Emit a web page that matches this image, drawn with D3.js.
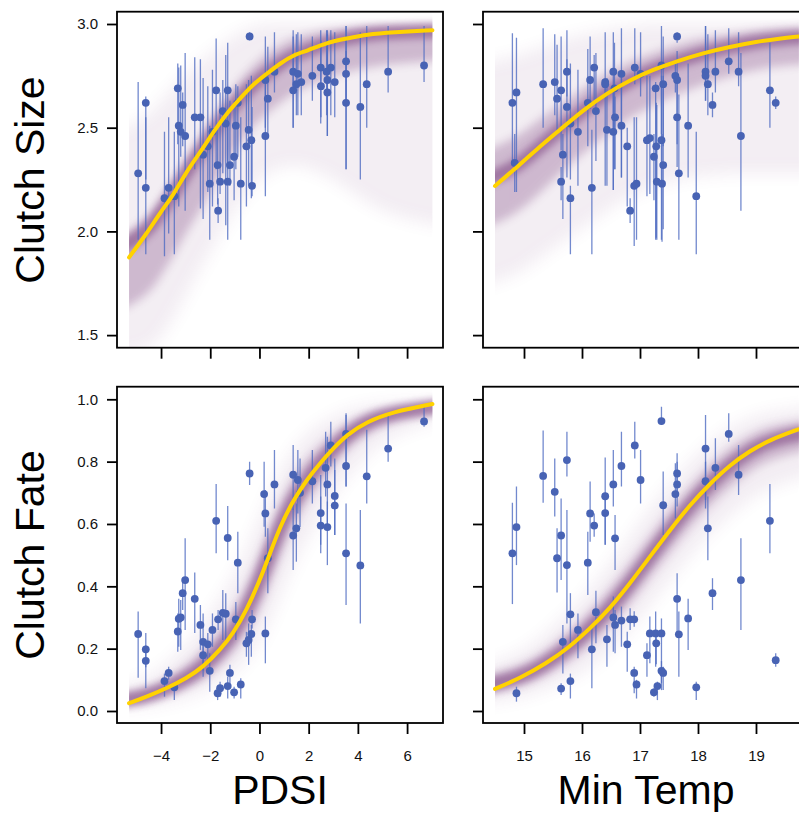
<!DOCTYPE html>
<html>
<head>
<meta charset="utf-8">
<script src="https://cdn.jsdelivr.net/npm/d3@7"></script>
<style>
  body { margin: 0; background: #fff; }
  svg { display: block; font-family: "Liberation Sans", Arial, Helvetica, sans-serif; }
</style>
</head>
<body>
<svg id="chart" width="799" height="814"></svg>
<script>
// observed points: [x, mean, lower, upper]
const pdsiSize = [
  [-4.93, 2.28, 1.96, 2.72], [-4.62, 2.62, 2.25, 2.65], [-4.62, 2.21, 1.89, 2.55],
  [-3.86, 2.16, 1.88, 2.48], [-3.69, 2.21, 1.99, 2.55], [-3.46, 2.17, 1.89, 2.48],
  [-3.32, 2.69, 2.42, 2.81], [-3.28, 2.51, 2.12, 2.79], [-3.20, 2.48, 2.36, 2.80],
  [-3.12, 2.61, 2.41, 2.67], [-3.02, 2.46, 2.10, 2.86], [-2.63, 2.55, 2.30, 2.84],
  [-2.40, 2.55, 2.11, 2.83], [-2.29, 2.37, 2.06, 2.74], [-2.10, 2.41, 2.19, 2.70],
  [-2.02, 2.23, 1.96, 2.51], [-1.91, 2.48, 2.12, 2.78], [-1.76, 2.68, 2.30, 2.93],
  [-1.70, 2.32, 2.13, 2.50], [-1.68, 2.10, 2.04, 2.16], [-1.60, 2.24, 2.18, 2.67],
  [-1.49, 2.58, 2.28, 2.73], [-1.37, 2.52, 2.03, 2.85], [-1.29, 2.68, 2.30, 2.91],
  [-1.29, 2.24, 1.96, 2.54], [-1.20, 2.32, 2.22, 2.63], [-1.03, 2.36, 2.15, 2.63],
  [-0.96, 2.51, 2.30, 2.71], [-0.88, 2.62, 2.36, 2.70], [-0.76, 2.23, 1.96, 2.55],
  [-0.53, 2.41, 2.12, 2.71], [-0.44, 2.49, 2.22, 2.73], [-0.40, 2.94, 2.92, 2.96],
  [-0.33, 2.44, 2.16, 2.75], [-0.30, 2.22, 2.17, 2.60], [0.24, 2.46, 2.17, 2.73],
  [0.24, 2.73, 2.50, 2.94], [0.34, 2.64, 2.46, 2.89], [0.61, 2.77, 2.67, 2.96],
  [1.37, 2.77, 2.50, 2.94], [1.37, 2.68, 2.50, 2.97], [1.50, 2.71, 2.56, 2.95],
  [1.56, 2.76, 2.56, 2.96], [1.70, 2.72, 2.56, 2.95], [2.15, 2.75, 2.63, 2.94],
  [2.49, 2.79, 2.52, 2.97], [2.50, 2.70, 2.55, 2.92], [2.73, 2.77, 2.56, 2.97],
  [2.76, 2.73, 2.46, 2.97], [2.76, 2.67, 2.46, 2.95], [2.90, 2.79, 2.56, 2.97],
  [3.06, 2.72, 2.55, 2.96], [3.52, 2.82, 2.62, 2.99], [3.52, 2.76, 2.30, 2.99],
  [3.52, 2.62, 2.30, 2.87], [4.10, 2.60, 2.25, 2.96], [4.36, 2.71, 2.50, 2.99],
  [5.23, 2.77, 2.67, 2.99], [6.69, 2.80, 2.72, 2.99]
];

const pdsiFate = [
  [-4.93, 0.247, 0.107, 0.319], [-4.62, 0.198, 0.14, 0.25], [-4.62, 0.161, 0.073, 0.21],
  [-3.86, 0.096, 0.046, 0.12], [-3.69, 0.122, 0.10, 0.142], [-3.46, 0.076, 0.035, 0.089],
  [-3.32, 0.255, 0.19, 0.313], [-3.28, 0.296, 0.206, 0.36], [-3.20, 0.30, 0.196, 0.356],
  [-3.12, 0.378, 0.324, 0.42], [-3.02, 0.42, 0.26, 0.554], [-2.63, 0.36, 0.25, 0.444],
  [-2.40, 0.276, 0.196, 0.34], [-2.29, 0.222, 0.11, 0.313], [-2.29, 0.179, 0.13, 0.217],
  [-2.10, 0.214, 0.153, 0.25], [-2.02, 0.129, 0.062, 0.185], [-1.91, 0.26, 0.206, 0.313],
  [-1.76, 0.61, 0.506, 0.728], [-1.70, 0.057, 0.035, 0.073], [-1.68, 0.294, 0.26, 0.324],
  [-1.60, 0.073, 0.046, 0.094], [-1.49, 0.315, 0.228, 0.388], [-1.37, 0.312, 0.228, 0.378],
  [-1.29, 0.555, 0.484, 0.658], [-1.29, 0.08, 0.04, 0.11], [-1.20, 0.122, 0.089, 0.148],
  [-1.03, 0.06, 0.04, 0.078], [-0.96, 0.294, 0.228, 0.35], [-0.88, 0.476, 0.378, 0.575],
  [-0.76, 0.085, 0.04, 0.105], [-0.53, 0.217, 0.174, 0.254], [-0.44, 0.228, 0.148, 0.281],
  [-0.40, 0.762, 0.725, 0.80], [-0.33, 0.247, 0.174, 0.276], [-0.30, 0.294, 0.265, 0.324],
  [0.19, 0.696, 0.591, 0.80], [0.24, 0.634, 0.559, 0.709], [0.24, 0.249, 0.153, 0.303],
  [0.34, 0.49, 0.378, 0.586], [0.61, 0.727, 0.65, 0.837], [1.37, 0.758, 0.645, 0.853],
  [1.37, 0.563, 0.452, 0.65], [1.50, 0.586, 0.479, 0.666], [1.56, 0.741, 0.634, 0.837],
  [1.65, 0.70, 0.59, 0.81], [2.15, 0.737, 0.666, 0.837], [2.49, 0.635, 0.533, 0.757],
  [2.49, 0.595, 0.506, 0.688], [2.69, 0.78, 0.688, 0.896], [2.76, 0.727, 0.59, 0.88],
  [2.76, 0.59, 0.468, 0.672], [2.90, 0.852, 0.784, 0.928], [3.06, 0.69, 0.565, 0.81],
  [3.06, 0.659, 0.565, 0.773], [3.52, 0.889, 0.72, 0.955], [3.52, 0.786, 0.72, 0.95],
  [3.52, 0.506, 0.34, 0.666], [4.10, 0.467, 0.281, 0.645], [4.36, 0.753, 0.666, 0.902],
  [5.23, 0.842, 0.80, 0.955], [6.69, 0.929, 0.912, 0.976]
];

const tempSize = [
  [14.80, 2.62, 2.33, 2.955], [14.87, 2.67, 2.19, 2.934], [14.84, 2.33, 2.19, 2.47],
  [15.33, 2.71, 2.50, 2.98], [15.53, 2.72, 2.56, 2.95], [15.57, 2.64, 2.47, 2.90],
  [15.64, 2.68, 2.39, 2.94], [15.67, 2.37, 2.06, 2.47], [15.64, 2.24, 2.15, 2.31],
  [15.74, 2.77, 2.65, 2.97], [15.74, 2.60, 2.26, 2.83], [15.80, 2.52, 2.25, 2.81],
  [15.80, 2.16, 1.89, 2.22], [15.93, 2.48, 2.22, 2.78], [16.10, 2.62, 2.41, 2.88],
  [16.14, 2.73, 2.59, 2.94], [16.17, 2.21, 1.89, 2.49], [16.21, 2.79, 2.63, 2.85],
  [16.24, 2.58, 2.34, 2.86], [16.40, 2.72, 2.22, 2.96], [16.40, 2.71, 2.66, 2.74],
  [16.43, 2.49, 2.22, 2.74], [16.54, 2.77, 2.20, 2.96], [16.54, 2.48, 2.20, 2.68],
  [16.56, 2.69, 2.30, 2.91], [16.57, 2.55, 2.30, 2.65], [16.68, 2.76, 2.26, 2.98],
  [16.68, 2.51, 2.26, 2.75], [16.78, 2.41, 2.12, 2.50], [16.83, 2.10, 2.04, 2.16],
  [16.90, 2.22, 1.93, 2.55], [16.91, 2.79, 2.71, 2.98], [16.94, 2.23, 1.96, 2.55],
  [17.01, 2.76, 2.65, 2.96], [17.12, 2.44, 2.17, 2.75], [17.17, 2.45, 2.18, 2.75],
  [17.24, 2.36, 2.15, 2.47], [17.27, 2.69, 1.96, 2.72], [17.28, 2.41, 1.97, 2.62],
  [17.29, 2.24, 1.96, 2.61], [17.37, 2.80, 2.47, 2.99], [17.37, 2.44, 1.96, 2.75],
  [17.38, 2.23, 1.95, 2.47], [17.40, 2.71, 2.41, 2.94], [17.40, 2.32, 2.01, 2.75],
  [17.61, 2.75, 2.67, 2.82], [17.64, 2.94, 2.91, 2.96], [17.64, 2.73, 2.42, 2.87],
  [17.64, 2.55, 2.31, 2.76], [17.67, 2.28, 1.96, 2.66], [17.83, 2.51, 2.26, 2.81],
  [17.97, 2.17, 1.89, 2.48], [18.13, 2.77, 2.63, 2.99], [18.13, 2.75, 2.63, 2.99],
  [18.17, 2.71, 2.56, 2.95], [18.25, 2.61, 2.55, 2.67], [18.30, 2.77, 2.67, 2.97],
  [18.53, 2.82, 2.76, 2.98], [18.70, 2.77, 2.70, 2.96], [18.74, 2.46, 2.10, 2.86],
  [19.24, 2.68, 2.50, 2.91], [19.34, 2.62, 2.59, 2.65]
];

const tempFate = [
  [14.80, 0.506, 0.343, 0.668], [14.87, 0.59, 0.468, 0.72], [14.87, 0.057, 0.03, 0.078],
  [15.33, 0.754, 0.668, 0.90], [15.53, 0.703, 0.624, 0.81], [15.57, 0.49, 0.38, 0.586],
  [15.64, 0.563, 0.42, 0.682], [15.67, 0.222, 0.12, 0.276], [15.64, 0.072, 0.051, 0.089],
  [15.74, 0.805, 0.752, 0.896], [15.74, 0.468, 0.281, 0.645], [15.80, 0.31, 0.217, 0.378],
  [15.80, 0.096, 0.04, 0.12], [15.93, 0.26, 0.169, 0.313], [16.10, 0.476, 0.372, 0.575],
  [16.14, 0.634, 0.543, 0.736], [16.17, 0.198, 0.073, 0.27], [16.21, 0.595, 0.559, 0.634],
  [16.24, 0.317, 0.217, 0.386], [16.40, 0.689, 0.533, 0.813], [16.40, 0.635, 0.533, 0.70],
  [16.43, 0.23, 0.142, 0.276], [16.54, 0.727, 0.656, 0.837], [16.54, 0.30, 0.19, 0.367],
  [16.57, 0.554, 0.452, 0.629], [16.57, 0.276, 0.185, 0.324], [16.68, 0.786, 0.72, 0.896],
  [16.68, 0.29, 0.206, 0.335], [16.78, 0.214, 0.126, 0.254], [16.83, 0.294, 0.26, 0.33],
  [16.90, 0.294, 0.27, 0.32], [16.90, 0.122, 0.057, 0.142], [16.91, 0.852, 0.81, 0.928],
  [16.94, 0.085, 0.04, 0.10], [17.01, 0.741, 0.666, 0.837], [17.12, 0.179, 0.11, 0.217],
  [17.17, 0.249, 0.153, 0.303], [17.24, 0.06, 0.046, 0.073], [17.27, 0.249, 0.142, 0.319],
  [17.28, 0.217, 0.15, 0.25], [17.30, 0.08, 0.035, 0.094], [17.37, 0.93, 0.918, 0.976],
  [17.37, 0.249, 0.067, 0.297], [17.37, 0.129, 0.09, 0.16], [17.40, 0.122, 0.067, 0.142],
  [17.40, 0.66, 0.565, 0.768], [17.61, 0.696, 0.618, 0.795], [17.64, 0.727, 0.656, 0.827],
  [17.64, 0.762, 0.70, 0.80], [17.64, 0.36, 0.249, 0.442], [17.67, 0.246, 0.11, 0.319],
  [17.83, 0.297, 0.196, 0.36], [17.97, 0.076, 0.035, 0.094], [18.13, 0.842, 0.677, 0.95],
  [18.13, 0.737, 0.65, 0.80], [18.17, 0.586, 0.484, 0.688], [18.25, 0.378, 0.324, 0.426],
  [18.30, 0.78, 0.709, 0.875], [18.53, 0.889, 0.864, 0.955], [18.70, 0.758, 0.693, 0.853],
  [18.74, 0.42, 0.26, 0.554], [19.24, 0.61, 0.506, 0.728], [19.34, 0.163, 0.142, 0.185]
];

// fitted curve: [x, fit, inner lo, inner hi, outer lo, outer hi]
const pdsiSizeFit = [
  [-5.30, 1.875, 1.58, 1.93, 1.40, 2.45], [-4.58, 1.99, 1.68, 2.05, 1.42, 2.55],
  [-4.04, 2.09, 1.78, 2.15, 1.48, 2.62], [-3.50, 2.175, 1.88, 2.24, 1.58, 2.70],
  [-2.96, 2.29, 2.00, 2.35, 1.70, 2.76], [-2.41, 2.38, 2.10, 2.45, 1.82, 2.82],
  [-1.87, 2.48, 2.22, 2.55, 1.93, 2.87], [-1.33, 2.57, 2.33, 2.65, 2.04, 2.92],
  [-0.79, 2.64, 2.43, 2.73, 2.14, 2.96], [-0.25, 2.71, 2.51, 2.80, 2.22, 2.99],
  [0.30, 2.76, 2.57, 2.86, 2.28, 3.0], [0.84, 2.81, 2.62, 2.90, 2.31, 3.0],
  [1.38, 2.85, 2.67, 2.93, 2.32, 3.0], [1.92, 2.87, 2.70, 2.95, 2.31, 3.0],
  [2.73, 2.91, 2.74, 2.97, 2.27, 3.0], [3.55, 2.93, 2.77, 2.98, 2.21, 3.0],
  [4.36, 2.95, 2.79, 2.99, 2.14, 3.0], [5.44, 2.96, 2.81, 2.99, 2.07, 3.0],
  [7.03, 2.97, 2.83, 2.995, 2.01, 3.0]
];

const tempSizeFit = [
  [14.50, 2.219, 1.99, 2.36, 1.72, 2.80], [14.82, 2.296, 2.07, 2.44, 1.78, 2.84],
  [15.22, 2.396, 2.17, 2.53, 1.86, 2.88], [15.62, 2.49, 2.28, 2.61, 1.94, 2.92],
  [16.02, 2.585, 2.38, 2.69, 2.02, 2.95], [16.43, 2.666, 2.47, 2.76, 2.10, 2.97],
  [16.83, 2.73, 2.55, 2.82, 2.17, 2.99], [17.23, 2.78, 2.61, 2.86, 2.22, 3.0],
  [17.63, 2.82, 2.66, 2.90, 2.25, 3.0], [18.09, 2.86, 2.71, 2.93, 2.27, 3.0],
  [18.55, 2.89, 2.75, 2.95, 2.28, 3.0], [19.01, 2.915, 2.78, 2.97, 2.28, 3.0],
  [19.41, 2.93, 2.80, 2.98, 2.28, 3.0], [19.74, 2.94, 2.81, 2.985, 2.28, 3.0]
];

const pdsiFateFit = [
  [-5.30, 0.025, 0.012, 0.040, 0.005, 0.07], [-4.58, 0.046, 0.028, 0.066, 0.012, 0.10],
  [-3.77, 0.073, 0.050, 0.100, 0.025, 0.15], [-2.96, 0.105, 0.075, 0.145, 0.04, 0.21],
  [-2.28, 0.142, 0.10, 0.195, 0.06, 0.28], [-1.60, 0.196, 0.145, 0.26, 0.09, 0.36],
  [-1.06, 0.25, 0.19, 0.32, 0.12, 0.43], [-0.52, 0.324, 0.25, 0.40, 0.16, 0.52],
  [0.02, 0.42, 0.33, 0.50, 0.22, 0.62], [0.43, 0.506, 0.41, 0.59, 0.29, 0.70],
  [0.84, 0.592, 0.50, 0.67, 0.37, 0.77], [1.38, 0.677, 0.60, 0.75, 0.47, 0.84],
  [1.92, 0.741, 0.67, 0.81, 0.55, 0.89], [2.46, 0.795, 0.73, 0.85, 0.62, 0.92],
  [3.01, 0.843, 0.79, 0.89, 0.69, 0.945], [3.55, 0.886, 0.84, 0.92, 0.75, 0.965],
  [4.36, 0.928, 0.89, 0.955, 0.82, 0.98], [5.44, 0.96, 0.935, 0.975, 0.89, 0.99],
  [7.03, 0.985, 0.97, 0.99, 0.95, 0.997]
];

const tempFateFit = [
  [14.50, 0.071, 0.045, 0.10, 0.02, 0.13], [14.93, 0.105, 0.075, 0.14, 0.04, 0.18],
  [15.39, 0.153, 0.115, 0.195, 0.07, 0.25], [15.79, 0.206, 0.16, 0.255, 0.10, 0.32],
  [16.14, 0.265, 0.21, 0.32, 0.14, 0.39], [16.48, 0.329, 0.27, 0.39, 0.19, 0.47],
  [16.83, 0.41, 0.345, 0.475, 0.26, 0.56], [17.17, 0.495, 0.43, 0.56, 0.34, 0.65],
  [17.52, 0.581, 0.51, 0.645, 0.42, 0.73], [17.86, 0.661, 0.59, 0.72, 0.50, 0.80],
  [18.21, 0.730, 0.66, 0.79, 0.57, 0.86], [18.55, 0.789, 0.72, 0.845, 0.63, 0.91],
  [18.90, 0.835, 0.77, 0.885, 0.68, 0.94], [19.24, 0.87, 0.81, 0.915, 0.72, 0.96],
  [19.74, 0.904, 0.85, 0.94, 0.77, 0.98]
];

const pdsiTicks = [-4, -2, 0, 2, 4, 6];
const tempTicks = [15, 16, 17, 18, 19];
const sizeTicks = [1.5, 2.0, 2.5, 3.0];
const fateTicks = [0, 0.2, 0.4, 0.6, 0.8, 1.0];

const svg = d3.select("#chart");
const defs = svg.append("defs");

const purple = "#7a3f7e";
const pointBlue = "#4863b4";
const barBlue = "#4f6cc2";
const gold = "#ffd200";

[["blurWide", 8], ["blurMid", 5], ["blurCore", 3.5]].forEach(([id, s]) => {
  defs.append("filter").attr("id", id)
    .attr("filterUnits", "userSpaceOnUse")
    .attr("x", 0).attr("y", 0).attr("width", 820).attr("height", 814)
    .append("feGaussianBlur").attr("stdDeviation", s);
});

const pdsiX = d3.scaleLinear().domain([-5.79, 7.46]).range([117, 443]);
const tempX = d3.scaleLinear().domain([14.293, 19.914]).range([483, 809]);
const sizeY = d3.scaleLinear().domain([1.4393, 3.0593]).range([347.7, 11.7]);
const fateY = d3.scaleLinear().domain([-0.0385, 1.0404]).range([723, 386.7]);

function drawPanel(id, x, y, pts, fit, xTicks, yTicks, xLabels, yLabels) {
  const [x0, x1] = x.range();
  const [y1, y0] = y.range();
  const fx0 = x(fit[0][0]), fx1 = x(fit[fit.length - 1][0]);

  defs.append("clipPath").attr("id", "clip-" + id)
    .append("rect").attr("x", x0).attr("y", y0).attr("width", x1 - x0).attr("height", y1 - y0);
  // shading stops sharply where the fitted range ends
  defs.append("clipPath").attr("id", "band-" + id)
    .append("rect").attr("x", fx0).attr("y", y0).attr("width", fx1 - fx0).attr("height", y1 - y0);

  const g = svg.append("g");
  const plot = g.append("g").attr("clip-path", `url(#clip-${id})`);
  const band = plot.append("g").attr("clip-path", `url(#band-${id})`);

  // push the blurred shapes a little past both ends so the blur does not fade the edges
  const last = fit.length - 1;
  const bx = (d, i) => x(d[0]) + (i === 0 ? -25 : i === last ? 25 : 0);

  const outer = d3.area().x(bx).y0(d => y(d[4])).y1(d => y(d[5])).curve(d3.curveBasis);
  const inner = d3.area().x(bx).y0(d => y(d[2])).y1(d => y(d[3])).curve(d3.curveBasis);
  const core = d3.line().x(bx).y(d => y(d[1])).curve(d3.curveBasis);
  const mid = d3.line().x(d => x(d[0])).y(d => y(d[1])).curve(d3.curveBasis);

  band.append("path").datum(fit).attr("d", outer)
    .attr("fill", purple).attr("opacity", 0.09).attr("filter", "url(#blurWide)");
  band.append("path").datum(fit).attr("d", inner)
    .attr("fill", purple).attr("opacity", 0.3).attr("filter", "url(#blurMid)");
  band.append("path").datum(fit).attr("d", core)
    .attr("fill", "none").attr("stroke", purple).attr("stroke-width", 14)
    .attr("opacity", 0.55).attr("filter", "url(#blurCore)");

  plot.selectAll("line.err").data(pts).enter().append("line")
    .attr("class", "err")
    .attr("x1", d => x(d[0])).attr("x2", d => x(d[0]))
    .attr("y1", d => y(d[2])).attr("y2", d => y(d[3]))
    .attr("stroke", barBlue).attr("stroke-width", 1.3).attr("stroke-opacity", 0.8);

  plot.selectAll("circle").data(pts).enter().append("circle")
    .attr("cx", d => x(d[0])).attr("cy", d => y(d[1])).attr("r", 3.9)
    .attr("fill", pointBlue);

  plot.append("path").datum(fit).attr("d", mid)
    .attr("fill", "none").attr("stroke", gold).attr("stroke-width", 4)
    .attr("stroke-linecap", "round");

  g.append("rect").attr("x", x0).attr("y", y0).attr("width", x1 - x0).attr("height", y1 - y0)
    .attr("fill", "none").attr("stroke", "#000").attr("stroke-width", 1.8);

  const ax = g.append("g").attr("transform", `translate(0,${y1})`)
    .call(d3.axisBottom(x).tickValues(xTicks).tickSize(11).tickPadding(16).tickFormat(d3.format("d")));
  const ay = g.append("g").attr("transform", `translate(${x0},0)`)
    .call(d3.axisLeft(y).tickValues(yTicks).tickSize(10).tickPadding(9).tickFormat(d3.format(".1f")));

  [ax, ay].forEach(a => {
    a.attr("font-family", null).attr("font-size", null);
    a.select(".domain").remove();
    a.selectAll("line").attr("stroke", "#000").attr("stroke-width", 1.8);
    a.selectAll("text").attr("font-size", 15).attr("fill", "#111");
  });
  if (!xLabels) ax.selectAll("text").remove();
  if (!yLabels) ay.selectAll("text").remove();
}

drawPanel("a", pdsiX, sizeY, pdsiSize, pdsiSizeFit, pdsiTicks, sizeTicks, false, true);
drawPanel("b", tempX, sizeY, tempSize, tempSizeFit, tempTicks, sizeTicks, false, false);
drawPanel("c", pdsiX, fateY, pdsiFate, pdsiFateFit, pdsiTicks, fateTicks, true, true);
drawPanel("d", tempX, fateY, tempFate, tempFateFit, tempTicks, fateTicks, true, false);

// axis titles
svg.append("text").attr("transform", "translate(44,180) rotate(-90)")
  .attr("text-anchor", "middle").attr("font-size", 41).text("Clutch Size");
svg.append("text").attr("transform", "translate(44,555) rotate(-90)")
  .attr("text-anchor", "middle").attr("font-size", 41).text("Clutch Fate");
svg.append("text").attr("x", 280).attr("y", 804)
  .attr("text-anchor", "middle").attr("font-size", 41).text("PDSI");
svg.append("text").attr("x", 646).attr("y", 804)
  .attr("text-anchor", "middle").attr("font-size", 41).text("Min Temp");
</script>
</body>
</html>
